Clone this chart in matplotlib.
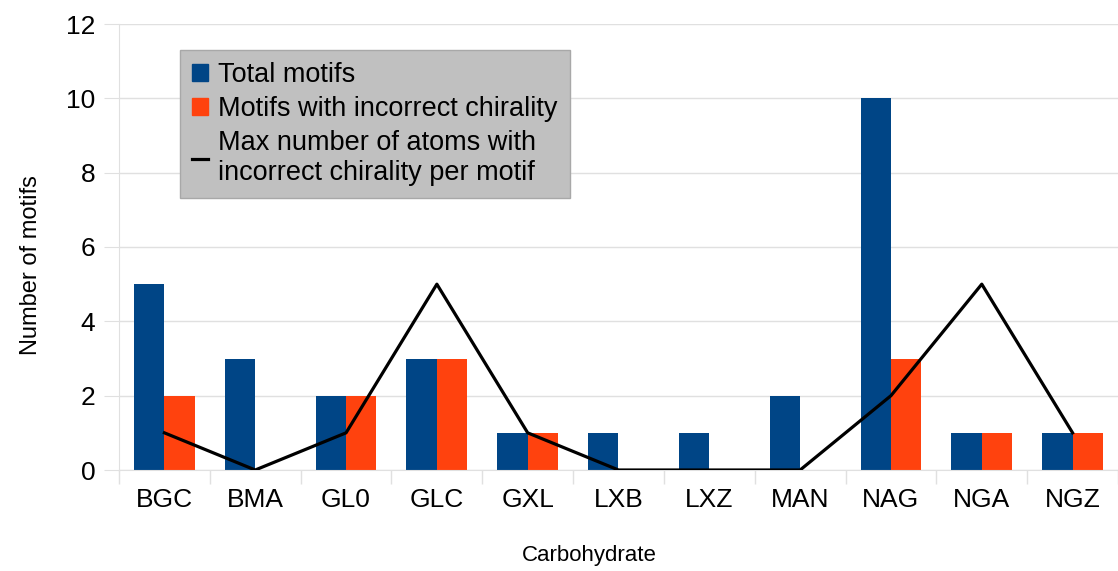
import numpy as np
import matplotlib.pyplot as plt
from matplotlib.patches import Patch
from matplotlib.lines import Line2D

plt.rcParams['font.family'] = ['Liberation Sans', 'DejaVu Sans']

# data
carbs = ['BGC', 'BMA', 'GL0', 'GLC', 'GXL', 'LXB', 'LXZ', 'MAN', 'NAG', 'NGA', 'NGZ']
total_motifs = [5, 3, 2, 3, 1, 1, 1, 2, 10, 1, 1]
wrong_chirality = [2, 0, 2, 3, 1, 0, 0, 0, 3, 1, 1]
max_atoms = [1, 0, 1, 5, 1, 0, 0, 0, 2, 5, 1]

blue = '#004586'
orange = '#ff420e'
grid_col = '#e0e0e0'

fig = plt.figure(figsize=(11.18, 5.71), dpi=100)
ax = fig.add_axes([119/1118, 101/571, 999/1118, 446/571])

x = np.arange(len(carbs))
w = 0.335
ax.bar(x - w/2, total_motifs, width=w, color=blue, zorder=2)
ax.bar(x + w/2, wrong_chirality, width=w, color=orange, zorder=2)
ax.plot(x, max_atoms, color='black', lw=2.3, zorder=3)

ax.set_xlim(-0.5, 10.38)
ax.set_ylim(0, 12)
ax.set_yticks(np.arange(0, 13, 2))
ax.set_xticks(x)
ax.set_xticklabels(carbs)
ax.set_xticks(np.arange(-0.5, 11, 1), minor=True)
ax.tick_params(axis='x', which='major', length=0, labelsize=19, pad=13)
ax.tick_params(axis='x', which='minor', length=10, color=grid_col, width=1)
ax.tick_params(axis='y', length=11, color=grid_col, labelsize=19, pad=6)
ax.yaxis.grid(True, color=grid_col, lw=1, zorder=0)

for s in ['top', 'right']:
    ax.spines[s].set_visible(False)
ax.spines['left'].set_color(grid_col)
ax.spines['bottom'].set_color(grid_col)

ax.set_xlabel('Carbohydrate', fontsize=16)
ax.set_ylabel('Number of motifs', fontsize=17)
ax.xaxis.set_label_coords(0.471, -0.168)
ax.yaxis.set_label_coords(-0.077, 0.46)

handles = [Patch(facecolor=blue, edgecolor=blue),
           Patch(facecolor=orange, edgecolor=orange),
           Line2D([0], [0], color='black', lw=2.3)]
labels = ['Total motifs', 'Motifs with incorrect chirality',
          'Max number of atoms with\nincorrect chirality per motif']
leg = ax.legend(handles, labels, loc='upper left', bbox_to_anchor=(0.061, 0.942),
                borderaxespad=0, fontsize=19.5, frameon=True, fancybox=False,
                framealpha=1, facecolor='#c0c0c0', edgecolor='#a8a8a8',
                handlelength=0.6, handleheight=0.6, handletextpad=0.35,
                labelspacing=0.3, borderpad=0.45)
leg.get_frame().set_linewidth(1)

fig.savefig('out.png', dpi=100)
